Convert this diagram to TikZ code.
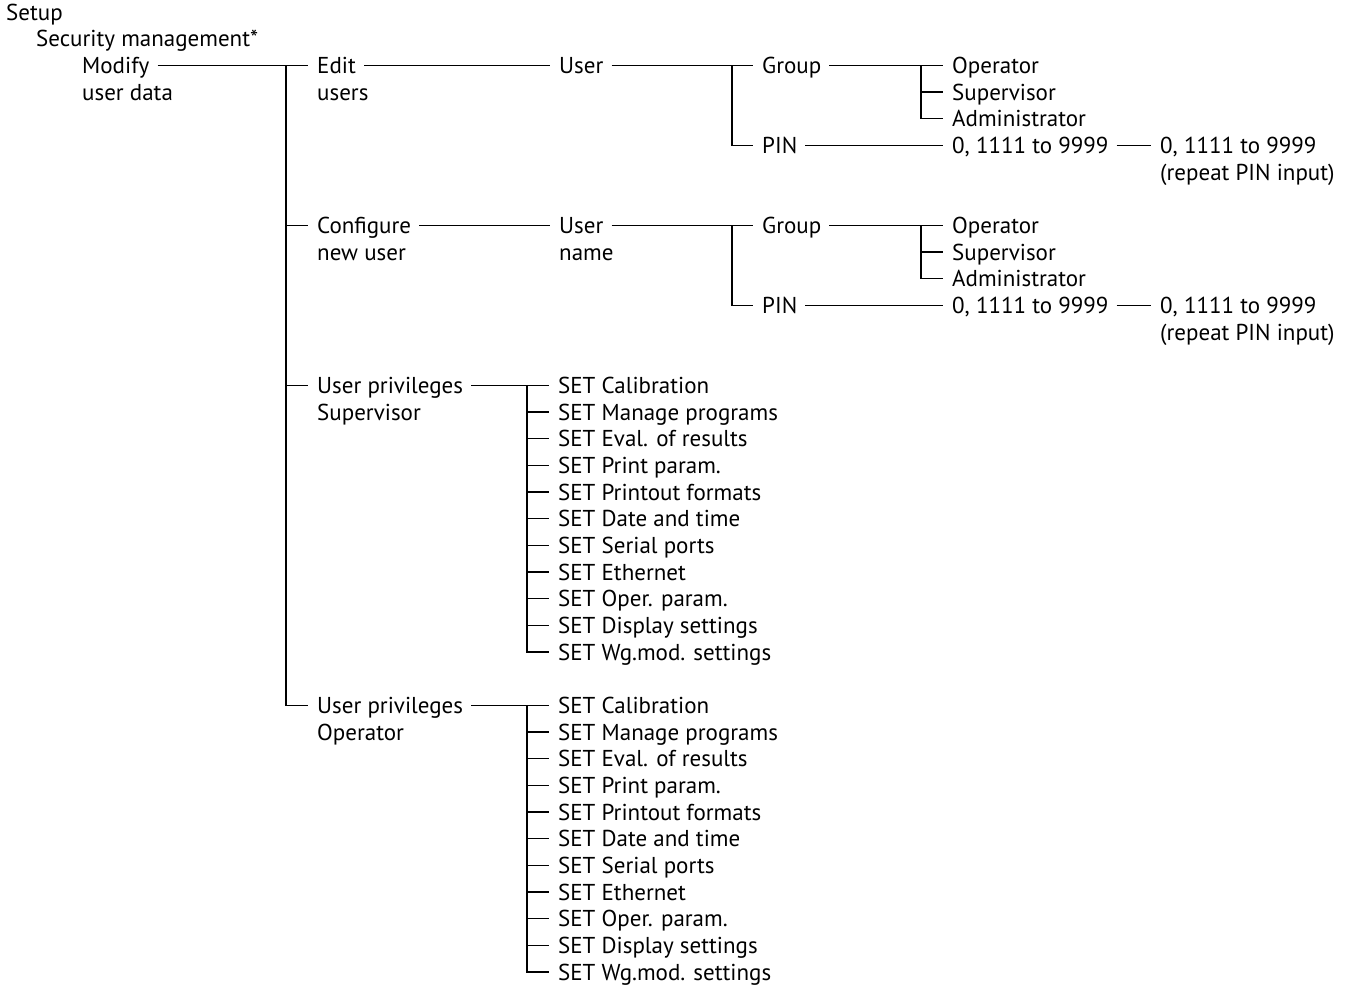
\documentclass[tikz,border=0pt]{standalone}
\usepackage{fontspec}
\setmainfont{PT Sans}
\tikzset{
  lbl/.style={anchor=west, inner sep=0pt, text height=16.3pt, text depth=0pt,
    font=\fontsize{23}{26}\selectfont},
  link/.style={line width=1.1pt, shorten <=8pt, shorten >=9pt},
  tick/.style={line width=1.1pt, shorten >=9pt}
}
\begin{document}
\begin{tikzpicture}[x=1pt, y=-26.667pt]
\useasboundingbox (0,-0.45) rectangle (1349,36.64);
% menu heads
\node[lbl] (setup) at (6,0) {Setup};
\node[lbl] (secu) at (36,1) {Security management*};
\node[lbl] (modify) at (82,2) {Modify};
\node[lbl] (modify2) at (82,3) {user data};
% edit users
\node[lbl] (edit) at (317,2) {Edit};
\node[lbl] (edit2) at (317,3) {users};
\node[lbl] (userA) at (559,2) {User};
\node[lbl] (groupA) at (762,2) {Group};
\node[lbl] (operA) at (952,2) {Operator};
\node[lbl] (supA) at (952,3) {Supervisor};
\node[lbl] (admA) at (952,4) {Administrator};
\node[lbl] (pinA) at (762,5) {PIN};
\node[lbl] (codeA) at (952,5) {0, 1111 to 9999};
\node[lbl] (againA) at (1160,5) {0, 1111 to 9999};
\node[lbl] (againA2) at (1160,6) {(repeat PIN input)};
% configure new user
\node[lbl] (cfg) at (317,8) {Configure};
\node[lbl] (cfg2) at (317,9) {new user};
\node[lbl] (userB) at (559,8) {User};
\node[lbl] (userB2) at (559,9) {name};
\node[lbl] (groupB) at (762,8) {Group};
\node[lbl] (operB) at (952,8) {Operator};
\node[lbl] (supB) at (952,9) {Supervisor};
\node[lbl] (admB) at (952,10) {Administrator};
\node[lbl] (pinB) at (762,11) {PIN};
\node[lbl] (codeB) at (952,11) {0, 1111 to 9999};
\node[lbl] (againB) at (1160,11) {0, 1111 to 9999};
\node[lbl] (againB2) at (1160,12) {(repeat PIN input)};
% privileges
\node[lbl] (privS) at (317,14) {User privileges};
\node[lbl] (privS2) at (317,15) {Supervisor};
\node[lbl] (privO) at (317,26) {User privileges};
\node[lbl] (privO2) at (317,27) {Operator};
\foreach \t [count=\i from 0] in {SET Calibration, SET Manage programs,
  SET Eval. of results, SET Print param., SET Printout formats,
  SET Date and time, SET Serial ports, SET Ethernet, SET Oper. param.,
  SET Display settings, SET Wg.mod. settings}
{
  \node[lbl] (s\i) at (558,14+\i) {\t};
  \node[lbl] (o\i) at (558,26+\i) {\t};
}
% branch points
\coordinate (b1) at (286,2);
\coordinate (b2) at (732,2);
\coordinate (b3) at (921,2);
\coordinate (b4) at (732,8);
\coordinate (b5) at (921,8);
\coordinate (b6) at (527,14);
\coordinate (b7) at (527,26);
% connectors
\draw[link] (modify) -- (edit);
\draw[tick] (b1) |- (cfg);
\draw[tick] (b1) |- (privS);
\draw[tick] (b1) |- (privO);
\draw[link] (edit) -- (userA);
\draw[link] (userA) -- (groupA);
\draw[tick] (b2) |- (pinA);
\draw[link] (groupA) -- (operA);
\draw[tick] (b3) |- (supA);
\draw[tick] (b3) |- (admA);
\draw[link] (pinA) -- (codeA);
\draw[link] (codeA) -- (againA);
\draw[link] (cfg) -- (userB);
\draw[link] (userB) -- (groupB);
\draw[tick] (b4) |- (pinB);
\draw[link] (groupB) -- (operB);
\draw[tick] (b5) |- (supB);
\draw[tick] (b5) |- (admB);
\draw[link] (pinB) -- (codeB);
\draw[link] (codeB) -- (againB);
\draw[link] (privS) -- (s0);
\draw[link] (privO) -- (o0);
\foreach \i in {1,...,10}
{
  \draw[tick] (b6) |- (s\i);
  \draw[tick] (b7) |- (o\i);
}
%
\end{tikzpicture}
\end{document}
